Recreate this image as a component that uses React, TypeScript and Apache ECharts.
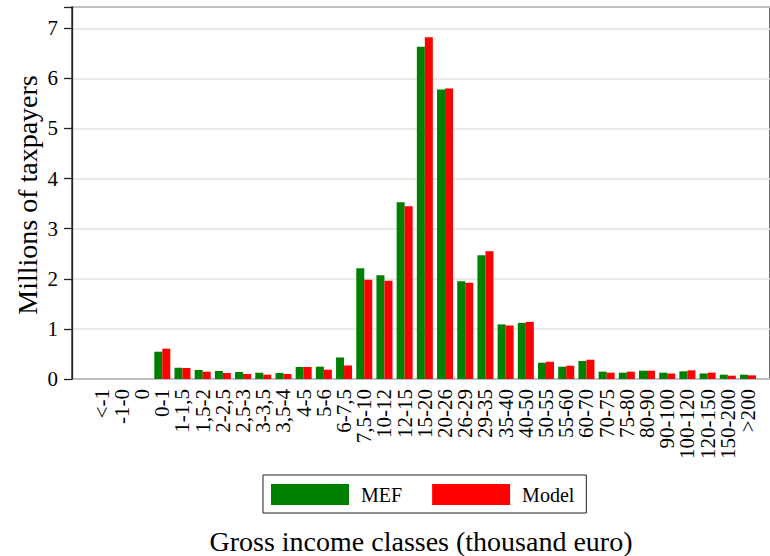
import React, { useEffect, useRef } from "react";
import * as echarts from "echarts";

const categories = ["<-1", "-1-0", "0", "0-1", "1-1,5", "1,5-2", "2-2,5", "2,5-3", "3-3,5", "3,5-4", "4-5", "5-6", "6-7,5", "7,5-10", "10-12", "12-15", "15-20", "20-26", "26-29", "29-35", "35-40", "40-50", "50-55", "55-60", "60-70", "70-75", "75-80", "80-90", "90-100", "100-120", "120-150", "150-200", ">200"];

const mefValues = [0, 0, 0, 0.545, 0.225, 0.18, 0.16, 0.14, 0.126, 0.12, 0.24, 0.246, 0.43, 2.21, 2.07, 3.53, 6.63, 5.78, 1.95, 2.47, 1.09, 1.12, 0.325, 0.245, 0.36, 0.146, 0.126, 0.166, 0.126, 0.153, 0.11, 0.086, 0.086];

const modelValues = [0, 0, 0, 0.605, 0.22, 0.146, 0.12, 0.1, 0.086, 0.1, 0.24, 0.186, 0.27, 1.98, 1.96, 3.45, 6.82, 5.8, 1.92, 2.55, 1.07, 1.14, 0.345, 0.265, 0.385, 0.126, 0.146, 0.166, 0.11, 0.173, 0.126, 0.066, 0.073];

const seriesNames = ["MEF", "Model"];
const yTitle = "Millions of taxpayers";
const xTitle = "Gross income classes (thousand euro)";

const FONT = "Liberation Serif";
const Y_MAX = 7.425;

export default function App() {
  const ref = useRef<HTMLDivElement>(null);
  useEffect(() => {
    if (!ref.current) return;
    const chart = echarts.init(ref.current, null, { renderer: "svg" });
    const gridTop = 7;
    const gridBottom = 177;
    chart.setOption({
      animation: false,
      backgroundColor: "#ffffff",
      textStyle: { fontFamily: FONT },
      grid: [
        { left: 72, right: -10, top: gridTop, bottom: gridBottom, show: true, borderColor: "#222", borderWidth: 1.3, backgroundColor: "transparent" },
        { left: 91.6, right: 11.9, top: gridTop, bottom: gridBottom },
      ],
      xAxis: [
        { gridIndex: 0, type: "value", min: 0, max: 1, show: false },
        {
          gridIndex: 1,
          type: "category",
          data: categories,
          axisLine: { show: false },
          axisTick: { show: false },
          splitLine: { show: false },
          axisLabel: { rotate: 90, interval: 0, margin: 10, fontSize: 21, fontFamily: FONT, color: "#000" },
        },
      ],
      yAxis: [
        {
          gridIndex: 0,
          type: "value",
          min: 0,
          max: Y_MAX,
          interval: 1,
          axisLine: { show: true, lineStyle: { color: "#222", width: 1.3 } },
          axisTick: { show: true, length: 8, lineStyle: { color: "#222", width: 1.3 } },
          splitLine: { show: true, lineStyle: { color: "#e3e3e3", width: 1.5 } },
          axisLabel: {
            margin: 14,
            fontSize: 21,
            fontFamily: FONT,
            color: "#000",
            formatter: (v: number) => (Number.isInteger(v) ? String(v) : ""),
          },
        },
        { gridIndex: 1, type: "value", min: 0, max: Y_MAX, show: false },
      ],
      legend: {
        data: seriesNames,
        left: 263,
        top: 475,
        orient: "horizontal",
        itemWidth: 78,
        itemHeight: 21,
        itemGap: 30,
        padding: [9, 12, 8, 8],
        borderColor: "#222",
        borderWidth: 1,
        icon: "rect",
        textStyle: { fontSize: 20, fontFamily: FONT, color: "#000", padding: [0, 0, 0, 7] },
      },
      series: [
        {
          name: seriesNames[0],
          type: "bar",
          xAxisIndex: 1,
          yAxisIndex: 1,
          data: mefValues,
          barWidth: 8,
          barGap: "0%",
          itemStyle: { color: "#008000" },
        },
        {
          name: seriesNames[1],
          type: "bar",
          xAxisIndex: 1,
          yAxisIndex: 1,
          data: modelValues,
          barWidth: 8,
          barGap: "0%",
          itemStyle: { color: "#ff0000" },
        },
      ],
      graphic: [
        {
          type: "text",
          x: 27,
          y: 195,
          rotation: Math.PI / 2,
          style: { text: yTitle, font: `28px ${FONT}`, fill: "#000", textAlign: "center", textVerticalAlign: "middle" },
        },
        {
          type: "text",
          x: 421,
          y: 541,
          style: { text: xTitle, font: `28px ${FONT}`, fill: "#000", textAlign: "center", textVerticalAlign: "middle" },
        },
      ],
    });
    return () => chart.dispose();
  }, []);
  return <div ref={ref} style={{ position: "fixed", left: 0, top: 0, width: 770, height: 556 }} />;
}
